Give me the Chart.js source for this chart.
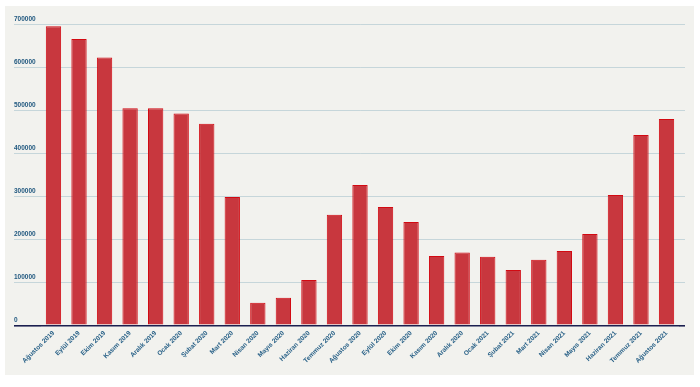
<!DOCTYPE html>
<html>
<head>
<meta charset="utf-8">
<script src="https://cdn.jsdelivr.net/npm/chart.js@4/dist/chart.umd.min.js"></script>
<style>
  html, body { margin: 0; padding: 0; background: #ffffff; }
  body { width: 700px; height: 387px; position: relative; overflow: hidden; }
  #panel { position: absolute; left: 5px; top: 6px; width: 689px; height: 369px; background: #f2f2ee; }
  #c { display: block; }
</style>
</head>
<body>
<div id="panel"><canvas id="c" width="689" height="369"></canvas></div>
<script>
const categories = [
  "Ağustos 2019", "Eylül 2019", "Ekim 2019", "Kasım 2019", "Aralık 2019",
  "Ocak 2020", "Şubat 2020", "Mart 2020", "Nisan 2020", "Mayıs 2020",
  "Haziran 2020", "Temmuz 2020", "Ağustos 2020", "Eylül 2020", "Ekim 2020",
  "Kasım 2020", "Aralık 2020", "Ocak 2021", "Şubat 2021", "Mart 2021",
  "Nisan 2021", "Mayıs 2021", "Haziran 2021", "Temmuz 2021", "Ağustos 2021"
];
const values = [
  695000, 665000, 622000, 504000, 504000,
  492000, 468000, 298000, 52500, 64000,
  105000, 257000, 326000, 275000, 240000,
  161000, 169000, 159000, 128500, 152000,
  172500, 212000, 303000, 442000, 479000
];
const yMin = 0;
const yMax = 700000;
const yStep = 100000;

const gridColor = (ctx) => (ctx.tick && ctx.tick.value === 0) ? '#1b1f4f' : '#c6d6da';
const gridWidth = (ctx) => (ctx.tick && ctx.tick.value === 0) ? 1.6 : 1;

new Chart(document.getElementById('c'), {
  type: 'bar',
  data: {
    labels: categories,
    datasets: [{
      data: values,
      backgroundColor: '#c8373e',
      borderColor: '#d20a12',
      borderWidth: 1,
      barPercentage: 0.6,
      categoryPercentage: 1.0
    }]
  },
  options: {
    responsive: false,
    animation: false,
    devicePixelRatio: 1,
    layout: { padding: { left: 9, right: 9, top: 18, bottom: 9.7 } },
    plugins: { legend: { display: false }, tooltip: { enabled: false } },
    scales: {
      x: {
        grid: { display: false, drawTicks: false },
        border: { display: false },
        ticks: {
          autoSkip: false,
          minRotation: 45,
          maxRotation: 45,
          padding: 4,
          color: '#2a6288',
          font: { family: 'Liberation Sans, Arial, sans-serif', size: 6.5, weight: 'bold' }
        },
        afterFit: (axis) => { axis.height = 40; axis.paddingLeft = 0; axis.paddingRight = 0; }
      },
      y: {
        position: 'left',
        min: yMin,
        max: yMax,
        grid: { color: gridColor, tickColor: gridColor, lineWidth: gridWidth, tickLength: 26.7, drawTicks: true },
        border: { display: false },
        ticks: {
          stepSize: yStep,
          crossAlign: 'far',
          labelOffset: -5,
          color: '#235a80',
          font: { family: 'Liberation Sans, Arial, sans-serif', size: 6.5, weight: 'bold' },
          callback: (v) => String(v)
        },
        afterFit: (axis) => { axis.width = 26.7; axis.paddingTop = 0; axis.paddingBottom = 0; }
      },
      yRight: {
        position: 'right',
        min: yMin,
        max: yMax,
        grid: { drawOnChartArea: false, color: gridColor, tickColor: gridColor, lineWidth: gridWidth, tickLength: 5.7, drawTicks: true },
        border: { display: false },
        ticks: { stepSize: yStep, display: false },
        afterFit: (axis) => { axis.width = 5.7; axis.paddingTop = 0; axis.paddingBottom = 0; }
      }
    }
  }
});
</script>
</body>
</html>
